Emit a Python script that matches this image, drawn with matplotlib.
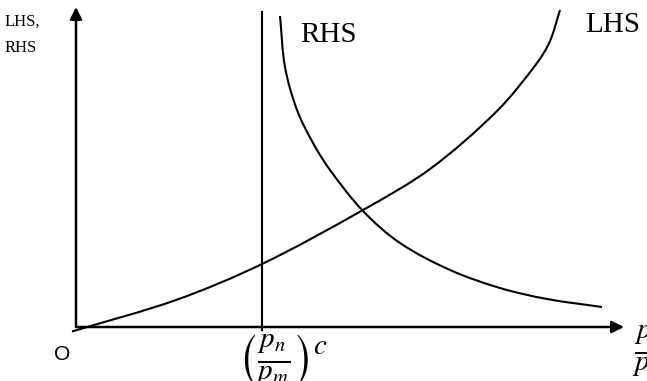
import matplotlib
matplotlib.use("Agg")
import matplotlib.pyplot as plt
import numpy as np
from matplotlib.path import Path
from matplotlib.patches import PathPatch

plt.rcParams['mathtext.fontset'] = 'stix'

# curve points, origin at O
lhs_x = [-4, 100, 186, 287, 354, 421, 461, 474, 484]
lhs_y = [-4.5, 27, 63, 117, 158, 216, 264, 286, 317]

rhs_x = [204, 209, 221, 237, 254, 287, 324, 374, 424, 471, 526]
rhs_y = [311, 260, 217, 184, 157, 116, 84, 57, 39, 28, 20]

ratio_c = 186          # position of (pn/pm)^c on the x axis
vline_y = [-3, 315]


def smooth_path(xs, ys):
    # cubic bezier pieces through the points, chord-length tangents
    p = np.column_stack([xs, ys]).astype(float)
    n = len(p)
    seg = np.hypot(*np.diff(p, axis=0).T)
    t = np.concatenate([[0], np.cumsum(seg)])
    m = np.zeros_like(p)
    m[0] = (p[1] - p[0]) / seg[0]
    m[-1] = (p[-1] - p[-2]) / seg[-1]
    for i in range(1, n - 1):
        m[i] = (p[i + 1] - p[i - 1]) / (t[i + 1] - t[i - 1])
    verts = [p[0]]
    codes = [Path.MOVETO]
    for i in range(n - 1):
        h = seg[i] / 3
        verts += [p[i] + m[i] * h, p[i + 1] - m[i + 1] * h, p[i + 1]]
        codes += [Path.CURVE4] * 3
    return Path(verts, codes)


fig = plt.figure(figsize=(6.47, 3.81), dpi=100)
ax = fig.add_axes([0, 0, 1, 1])
ax.set_xlim(-76, 571)
ax.set_ylim(-54, 327)
ax.axis('off')

# axes with arrow heads
ax.annotate('', xy=(0, 320), xytext=(0, 0),
            arrowprops=dict(arrowstyle='-|>', lw=1.8, color='black',
                            mutation_scale=18, shrinkA=0, shrinkB=0))
ax.annotate('', xy=(548, 0), xytext=(0, 0),
            arrowprops=dict(arrowstyle='-|>', lw=1.8, color='black',
                            mutation_scale=18, shrinkA=0, shrinkB=0))

ax.add_patch(PathPatch(smooth_path(lhs_x, lhs_y), fill=False, lw=1.5, color='black'))
ax.add_patch(PathPatch(smooth_path(rhs_x, rhs_y), fill=False, lw=1.5, color='black'))
ax.plot([ratio_c, ratio_c], vline_y, color='black', lw=1.5)

serif = 'Liberation Serif'
ax.text(-71, 305, 'LHS,', family=serif, fontsize=12, va='center', ha='left')
ax.text(-71, 279, 'RHS', family=serif, fontsize=12, va='center', ha='left')
ax.text(224, 292, 'RHS', family=serif, fontsize=21, va='center', ha='left')
ax.text(509, 302, 'LHS', family=serif, fontsize=21, va='center', ha='left')

ax.text(-14, -28, 'O', family='Liberation Sans', fontsize=15, ha='center', va='center')
ax.text(ratio_c + 21, -6, r'$\left(\frac{p_n}{p_m}\right)^c$', fontsize=30,
        ha='center', va='top')
ax.text(556, -24, r'$\frac{p_n}{p_m}$', fontsize=30, ha='left', va='center')

fig.savefig('out.png', dpi=100)
